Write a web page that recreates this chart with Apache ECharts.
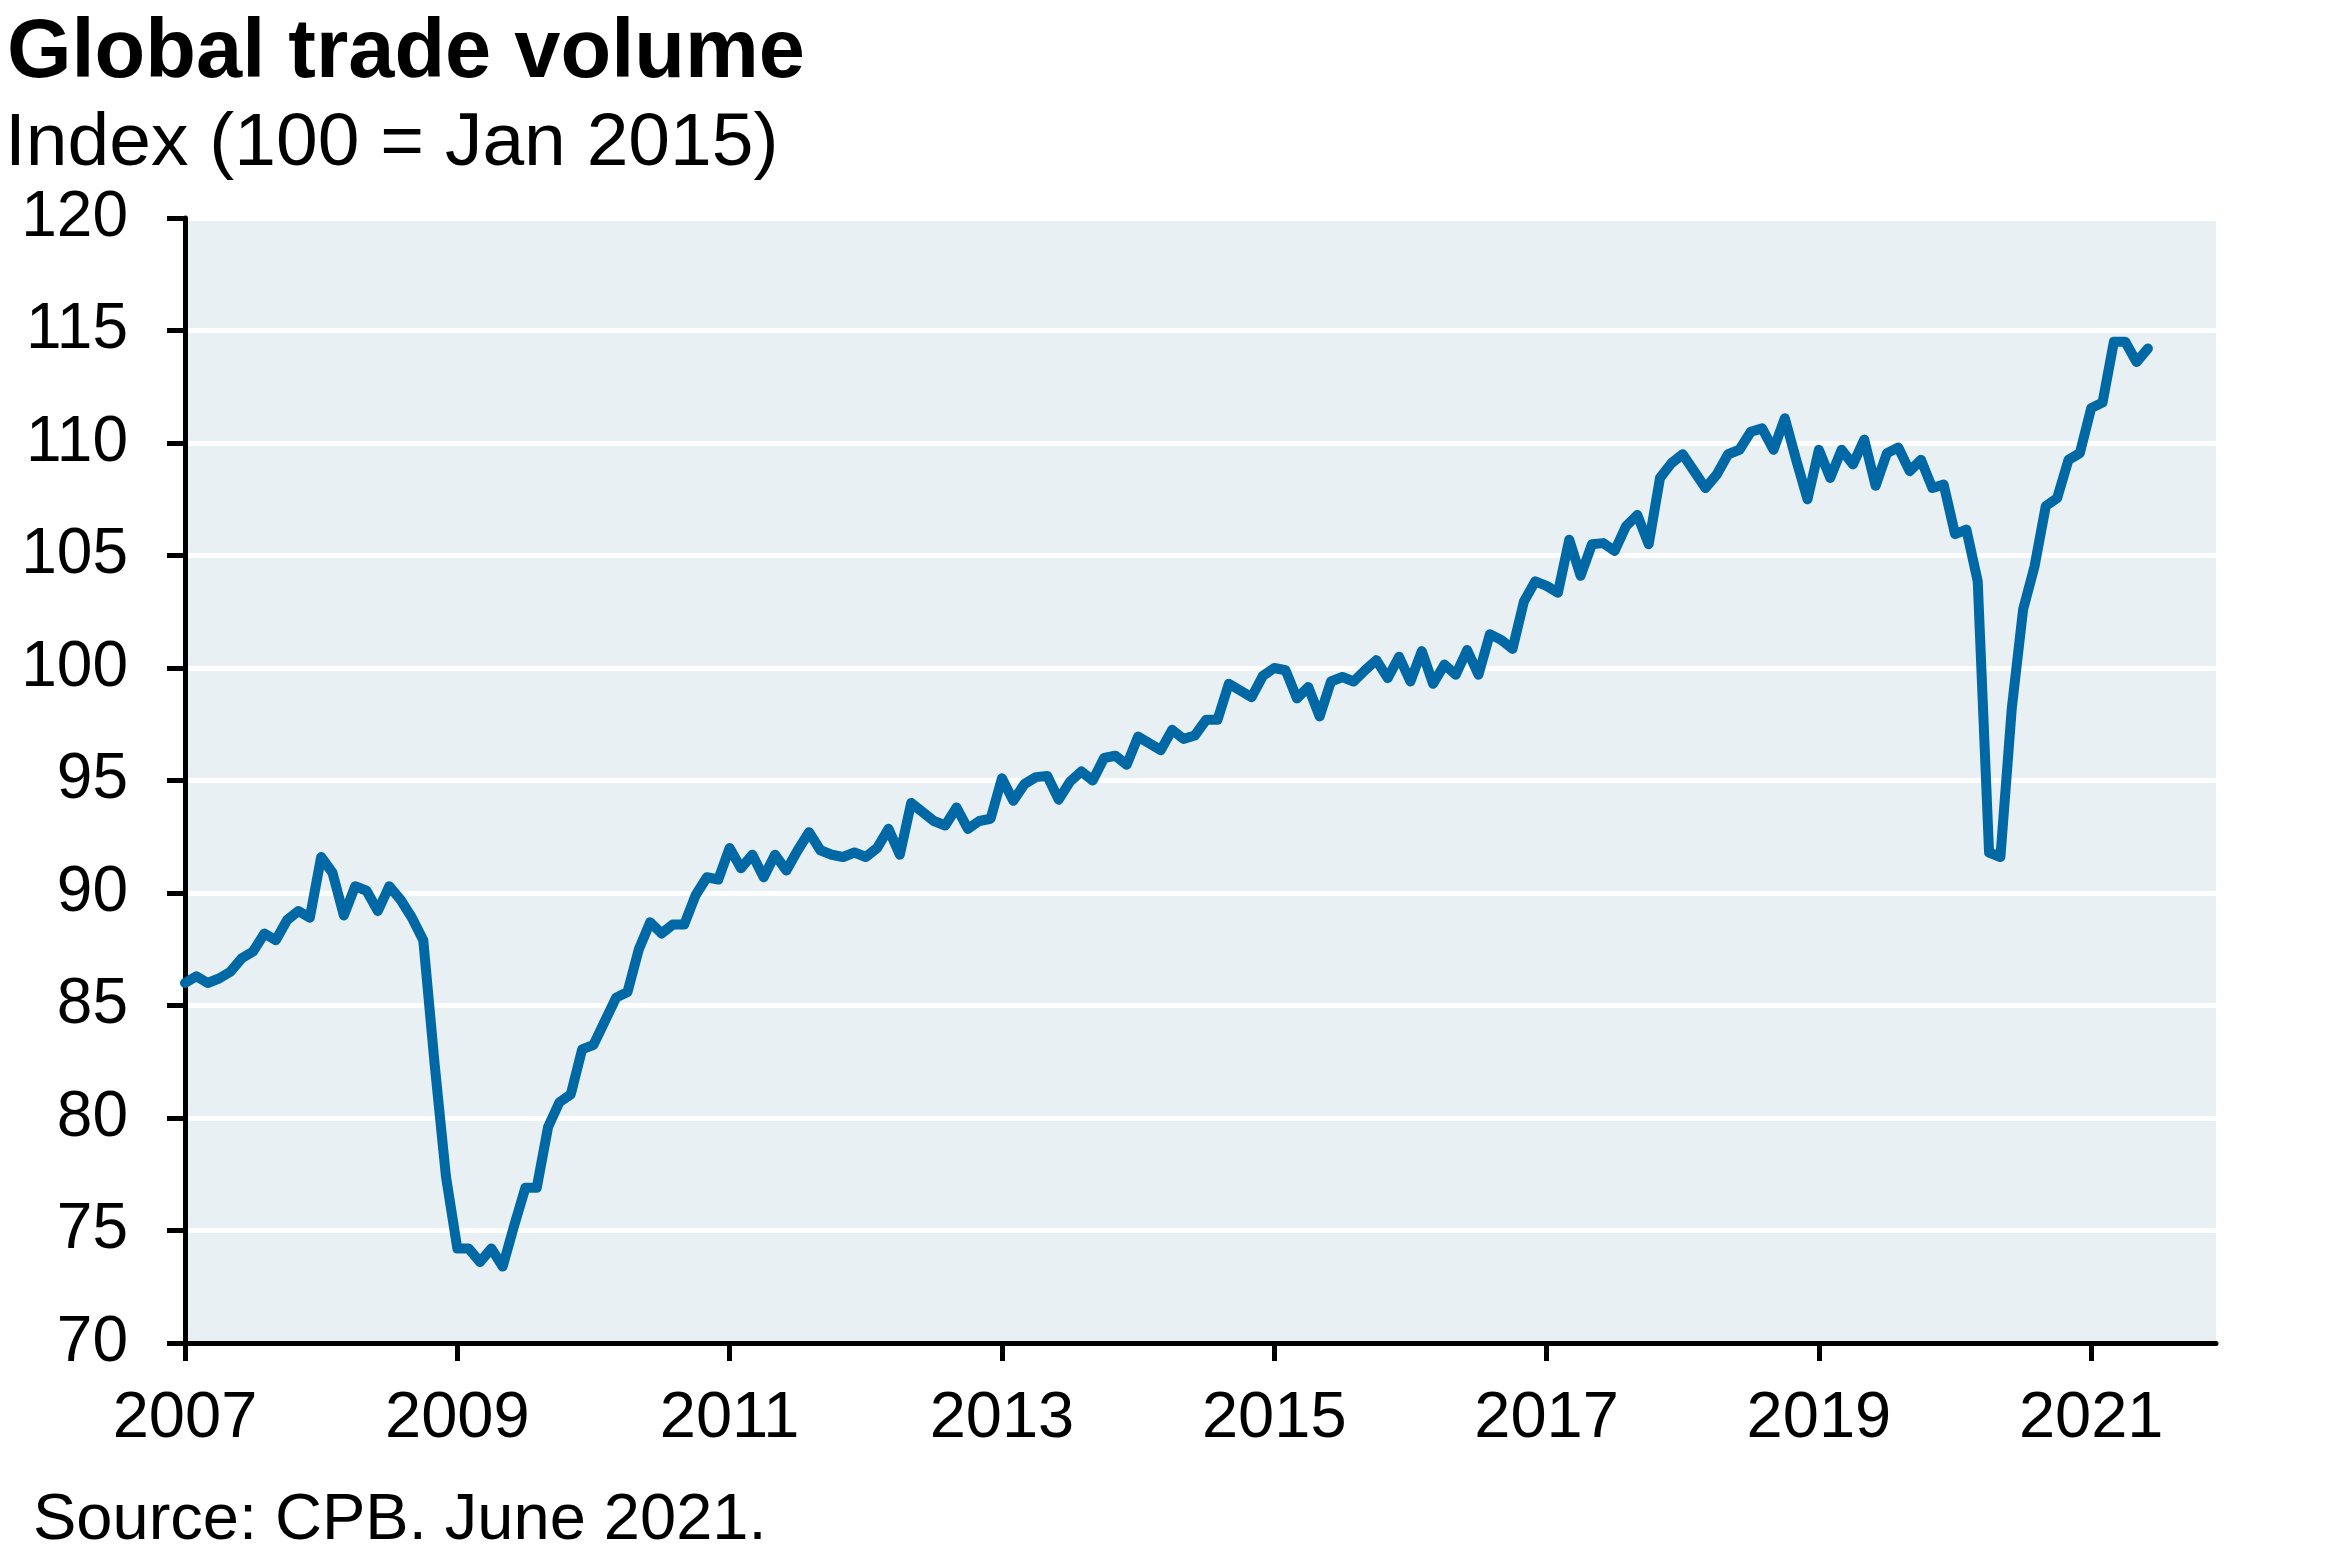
<!DOCTYPE html>
<html>
<head>
<meta charset="utf-8">
<script src="https://cdn.jsdelivr.net/npm/echarts@6/dist/echarts.min.js"></script>
<style>
html,body{margin:0;padding:0;background:#fff;}
#chart{width:2341px;height:1561px;}
</style>
</head>
<body>
<div id="chart"></div>
<script>
// Monthly global trade volume index (100 = Jan 2015), Jan 2007 onwards
const startYear = 2007;
const v2007 = [86.0, 86.3, 86.0, 86.2, 86.5, 87.1, 87.4, 88.2, 87.9, 88.8, 89.2, 88.9];
const v2008 = [91.6, 90.9, 89.0, 90.3, 90.1, 89.2, 90.3, 89.7, 88.9, 87.9, 82.4, 77.4];
const v2009 = [74.2, 74.2, 73.6, 74.2, 73.4, 75.2, 76.9, 76.9, 79.6, 80.7, 81.05, 83.05];
const v2010 = [83.25, 84.3, 85.35, 85.6, 87.5, 88.7, 88.2, 88.6, 88.6, 89.9, 90.7, 90.6];
const v2011 = [92.0, 91.1, 91.7, 90.7, 91.7, 91.0, 91.9, 92.7, 91.9, 91.7, 91.6, 91.8];
const v2012 = [91.6, 92.0, 92.85, 91.7, 94.0, 93.6, 93.2, 93.0, 93.8, 92.85, 93.2, 93.3];
const v2013 = [95.1, 94.1, 94.85, 95.15, 95.2, 94.15, 94.95, 95.4, 95.0, 96.0, 96.1, 95.7];
const v2014 = [96.95, 96.65, 96.35, 97.25, 96.85, 97.0, 97.7, 97.7, 99.3, 99.0, 98.7, 99.65];
const v2015 = [100.0, 99.9, 98.65, 99.15, 97.85, 99.4, 99.6, 99.4, 99.9, 100.35, 99.55, 100.5];
const v2016 = [99.4, 100.75, 99.3, 100.15, 99.7, 100.8, 99.7, 101.5, 101.25, 100.85, 102.95, 103.85];
const v2017 = [103.65, 103.35, 105.7, 104.1, 105.5, 105.55, 105.2, 106.3, 106.8, 105.5, 108.45, 109.1];
const v2018 = [109.5, 108.75, 108.0, 108.6, 109.5, 109.7, 110.5, 110.65, 109.7, 111.1, 109.25, 107.5];
const v2019 = [109.7, 108.45, 109.7, 109.05, 110.15, 108.1, 109.55, 109.8, 108.75, 109.25, 108.0, 108.15];
const v2020 = [105.95, 106.15, 103.85, 91.8, 91.6, 98.2, 102.6, 104.5, 107.2, 107.55, 109.25, 109.55];
const v2021 = [111.55, 111.8, 114.5, 114.5, 113.6, 114.2];

const yearTickLabels = ['2007', '2009', '2011', '2013', '2015', '2017', '2019', '2021'];
const yTicks = [70, 75, 80, 85, 90, 95, 100, 105, 110, 115, 120];

const allValues = [].concat(v2007, v2008, v2009, v2010, v2011, v2012, v2013, v2014,
  v2015, v2016, v2017, v2018, v2019, v2020, v2021);
const seriesData = allValues.map((v, i) => [i, v]);
const xTickValues = yearTickLabels.map(y => (parseInt(y, 10) - startYear) * 12);

const FONT = '"Liberation Sans", Arial, Helvetica, sans-serif';

const chart = echarts.init(document.getElementById('chart'), null, {renderer: 'canvas'});
chart.setOption({
  animation: false,
  backgroundColor: '#ffffff',
  title: [
    {
      text: 'Global trade volume',
      left: 2, top: 8,
      textStyle: {fontFamily: FONT, fontSize: 83, fontWeight: 'bold', color: '#000'}
    },
    {
      text: 'Index (100 = Jan 2015)',
      left: 0, top: 102,
      textStyle: {fontFamily: FONT, fontSize: 75, fontWeight: 'normal', color: '#000'}
    },
    {
      text: 'Source: CPB. June 2021.',
      left: 28, top: 1484,
      textStyle: {fontFamily: FONT, fontSize: 65, fontWeight: 'normal', color: '#000'}
    }
  ],
  grid: {
    left: 185, top: 218, right: 125, bottom: 218,
    show: true, backgroundColor: '#e8f0f3', borderWidth: 0
  },
  xAxis: {
    type: 'value',
    min: 0, max: 179, interval: 24,
    axisLine: {show: true, onZero: false, lineStyle: {color: '#000', width: 5}},
    axisTick: {show: true, length: 18, lineStyle: {color: '#000', width: 5}, customValues: xTickValues},
    axisLabel: {
      show: true, margin: 44, color: '#000', fontFamily: FONT, fontSize: 65,
      customValues: xTickValues,
      formatter: function (v) { return String(startYear + Math.round(v / 12)); }
    },
    splitLine: {show: false}
  },
  yAxis: {
    type: 'value',
    min: yTicks[0], max: yTicks[yTicks.length - 1], interval: 5,
    axisLine: {show: true, onZero: false, lineStyle: {color: '#000', width: 5}},
    axisTick: {show: true, length: 18, lineStyle: {color: '#000', width: 5}},
    axisLabel: {show: true, margin: 57, color: '#000', fontFamily: FONT, fontSize: 64},
    splitLine: {show: true, lineStyle: {color: '#ffffff', width: 5}}
  },
  series: [{
    type: 'line',
    data: seriesData,
    showSymbol: false,
    symbol: 'none',
    lineStyle: {color: '#0068a5', width: 10, cap: 'round', join: 'round'},
    z: 3
  }]
});
</script>
</body>
</html>
